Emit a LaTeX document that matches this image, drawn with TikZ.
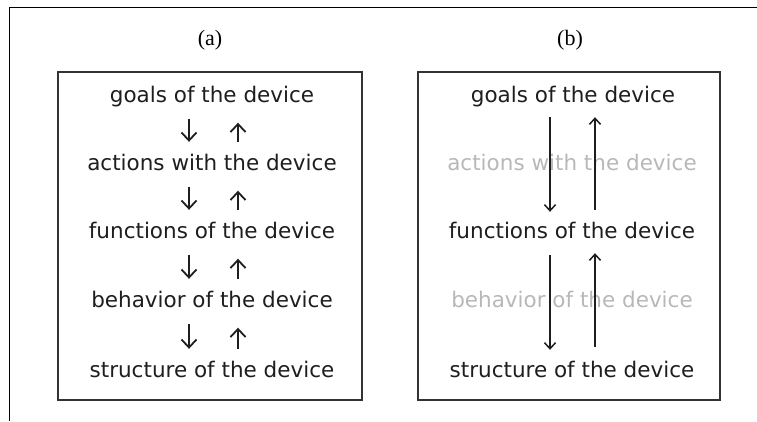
\documentclass[tikz,border=0pt]{standalone}
\usepackage{fontspec}
\setmainfont{Liberation Serif}
\newfontfamily\lblfont{DejaVu Sans}
\usetikzlibrary{arrows.meta}
\definecolor{txtdark}{HTML}{1E1E1E}
\definecolor{txtgray}{HTML}{B8B8B8}
\begin{document}
\begin{tikzpicture}[x=1pt,y=-1pt,
  lvl/.style={inner sep=0pt,text height=16pt,text depth=5pt,font=\lblfont\fontsize{21.5}{24}\selectfont,text=txtdark},
  faded/.style={lvl,text=txtgray},
  panel/.style={draw=black!80,line width=1.5pt},
  captxt/.style={font=\fontsize{22}{26}\selectfont},
  arr/.style={line width=1.5pt,draw=txtdark,-{Straight Barb[length=6pt,width=11pt,line width=1.5pt]}},
  shortarr/.style={line width=1.8pt,draw=txtdark,-{Straight Barb[length=8pt,width=15pt,line width=1.8pt]}},
  outerframe/.style={draw=black,line width=1pt}]
\useasboundingbox (0,0) rectangle (757,421);
% outer frame (top and left edges)
\draw[outerframe] (757,7) -- (9,7) -- (9,421);
% captions
\node[captxt] (capa) at (210,40) {(a)};
\node[captxt] (capb) at (570,40) {(b)};
% panels
\draw[panel] (58,72) rectangle (362,400);
\draw[panel] (418,72) rectangle (720,400);
% panel (a)
\node[lvl] (ga) at (212,97) {goals of the device};
\node[lvl] (aa) at (212,165) {actions with the device};
\node[lvl] (fa) at (212,233) {functions of the device};
\node[lvl] (ba) at (212,302) {behavior of the device};
\node[lvl] (sa) at (212,372) {structure of the device};
\foreach \u/\l in {ga/aa,aa/fa,fa/ba,ba/sa}{
  \draw[shortarr,shorten <=11pt,shorten >=12.5pt] ([xshift=-23pt]\u.south) -- ([xshift=-23pt]\l.north);
  \draw[shortarr,shorten <=12.5pt,shorten >=15pt] ([xshift=26pt]\l.north) -- ([xshift=26pt]\u.south);
}
% panel (b)
\node[lvl] (gb) at (573,97) {goals of the device};
\node[faded] (ab) at (572,165) {actions with the device};
\node[lvl] (fb) at (572,233) {functions of the device};
\node[faded] (bb) at (572,302) {behavior of the device};
\node[lvl] (sb) at (572,372) {structure of the device};
\draw[arr,shorten <=9.5pt,shorten >=10.5pt] (gb.south -| 550,0) -- (fb.north -| 550,0);
\draw[arr,shorten <=12.5pt,shorten >=9.5pt] (fb.north -| 595,0) -- (gb.south -| 595,0);
\draw[arr,shorten <=11.5pt,shorten >=11.5pt] (fb.south -| 550,0) -- (sb.north -| 550,0);
\draw[arr,shorten <=14.5pt,shorten >=9.5pt] (sb.north -| 595,0) -- (fb.south -| 595,0);
\end{tikzpicture}
\end{document}
